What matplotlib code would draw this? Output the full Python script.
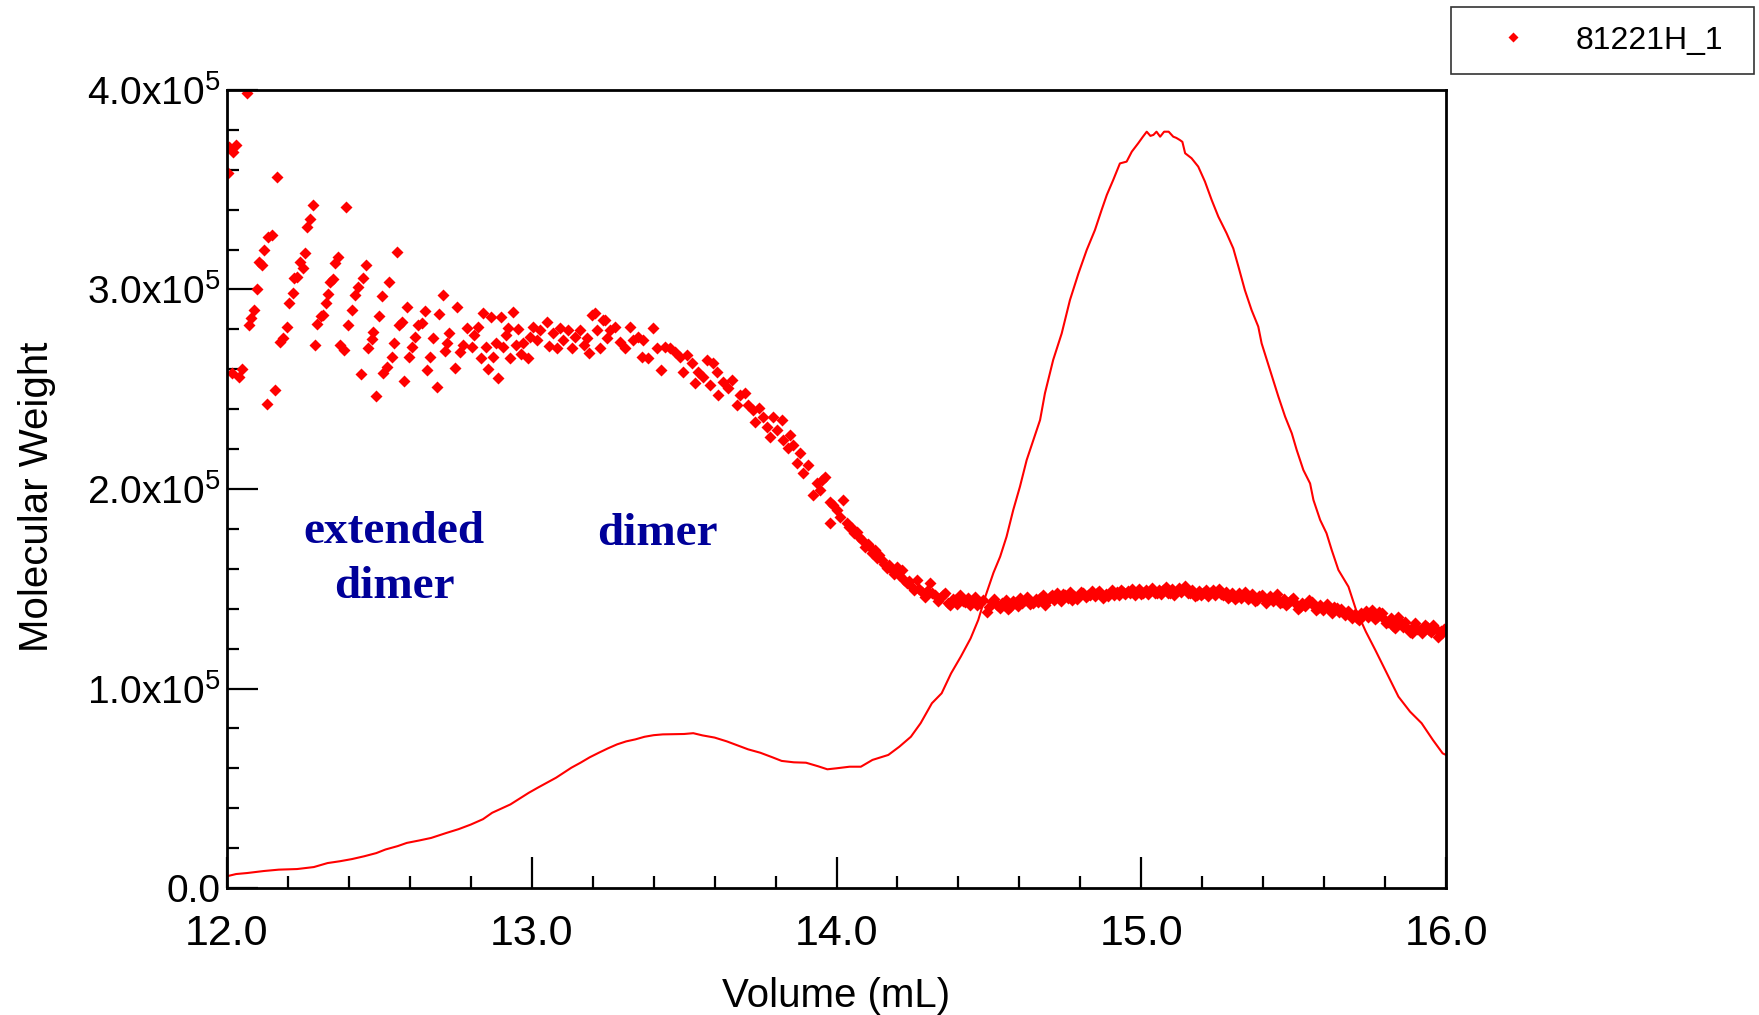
import matplotlib
matplotlib.use('Agg')
import matplotlib.pyplot as plt

plt.rcParams['font.family'] = ['Liberation Sans', 'DejaVu Sans']
plt.rcParams['mathtext.fontset'] = 'custom'
plt.rcParams['mathtext.rm'] = 'Liberation Sans'

# molar mass points (volume mL, MW in 1e5)
mals_early = [
    (12.004, 3.582), (12.008, 3.716), (12.015, 2.580), (12.020, 3.690), (12.030, 3.724),
    (12.040, 2.563), (12.048, 2.600), (12.065, 3.983), (12.073, 2.822), (12.080, 2.855),
    (12.088, 2.897), (12.097, 3.000), (12.106, 3.140), (12.114, 3.123), (12.122, 3.198),
    (12.130, 2.426), (12.136, 3.265), (12.147, 3.273), (12.158, 2.496), (12.165, 3.566),
    (12.174, 2.739), (12.185, 2.755), (12.198, 2.810), (12.205, 2.931), (12.215, 2.981),
    (12.221, 3.056), (12.231, 3.064), (12.240, 3.140), (12.248, 3.110), (12.256, 3.181),
    (12.264, 3.315), (12.272, 3.352), (12.281, 3.424), (12.289, 2.722), (12.296, 2.825),
    (12.307, 2.867), (12.316, 2.872), (12.324, 2.934), (12.333, 2.976), (12.338, 3.039),
    (12.347, 3.051), (12.355, 3.131), (12.365, 3.165), (12.371, 2.722), (12.384, 2.697),
    (12.389, 3.415), (12.398, 2.822), (12.410, 2.897), (12.420, 2.972), (12.431, 3.014),
    (12.439, 2.576), (12.447, 3.056), (12.456, 3.123), (12.464, 2.705), (12.475, 2.750),
    (12.480, 2.789), (12.489, 2.466), (12.499, 2.867), (12.508, 2.967), (12.513, 2.583),
    (12.524, 2.613), (12.532, 3.039), (12.540, 2.663), (12.549, 2.730), (12.557, 3.190),
    (12.565, 2.822), (12.573, 2.839), (12.580, 2.543), (12.590, 2.914), (12.598, 2.663),
    (12.606, 2.714), (12.617, 2.764), (12.628, 2.822), (12.639, 2.831), (12.650, 2.894),
    (12.655, 2.594), (12.666, 2.663), (12.677, 2.755), (12.690, 2.513), (12.697, 2.877),
    (12.708, 2.972), (12.715, 2.693), (12.723, 2.730), (12.730, 2.780), (12.748, 2.605),
    (12.756, 2.914), (12.765, 2.688), (12.776, 2.722), (12.786, 2.805), (12.803, 2.714),
    (12.810, 2.772), (12.825, 2.814), (12.832, 2.655), (12.840, 2.880), (12.850, 2.714),
    (12.857, 2.600), (12.865, 2.864), (12.874, 2.663), (12.883, 2.734), (12.890, 2.558),
    (12.900, 2.864), (12.907, 2.714), (12.915, 2.772), (12.923, 2.805), (12.930, 2.659),
    (12.940, 2.885), (12.948, 2.722), (12.956, 2.800), (12.964, 2.677), (12.972, 2.730),
]

mals_dimer = [
    (12.988, 2.659), (12.994, 2.764), (13.005, 2.814), (13.016, 2.747), (13.027, 2.797),
    (13.049, 2.839), (13.058, 2.718), (13.069, 2.780), (13.084, 2.705), (13.093, 2.805),
    (13.104, 2.747), (13.120, 2.797), (13.131, 2.705), (13.142, 2.764), (13.158, 2.797),
    (13.170, 2.722), (13.181, 2.755), (13.189, 2.680), (13.197, 2.872), (13.208, 2.880),
    (13.215, 2.797), (13.224, 2.705), (13.235, 2.847), (13.240, 2.847), (13.246, 2.755),
    (13.257, 2.797), (13.273, 2.814), (13.290, 2.739), (13.306, 2.705), (13.322, 2.814),
    (13.333, 2.747), (13.350, 2.764), (13.361, 2.663), (13.366, 2.747), (13.383, 2.655),
    (13.397, 2.805), (13.410, 2.705), (13.423, 2.597), (13.437, 2.714), (13.454, 2.705),
    (13.470, 2.688), (13.486, 2.663), (13.497, 2.588), (13.508, 2.672), (13.525, 2.630),
    (13.536, 2.530), (13.547, 2.588), (13.563, 2.563), (13.574, 2.647), (13.585, 2.521),
    (13.596, 2.630), (13.607, 2.588), (13.612, 2.471), (13.629, 2.538), (13.645, 2.505),
    (13.656, 2.546),
]

mals_decline = [
    (13.672, 2.421), (13.683, 2.471), (13.700, 2.480), (13.710, 2.421), (13.727, 2.396),
    (13.733, 2.338), (13.747, 2.404), (13.760, 2.363), (13.771, 2.312), (13.782, 2.262),
    (13.793, 2.363), (13.804, 2.296), (13.820, 2.346), (13.826, 2.245), (13.842, 2.204),
    (13.847, 2.270), (13.858, 2.220), (13.869, 2.129), (13.880, 2.179), (13.891, 2.079),
    (13.907, 2.120), (13.924, 1.970), (13.935, 2.028), (13.946, 1.995), (13.951, 2.045),
    (13.962, 2.062), (13.979, 1.937), (13.979, 1.828), (13.990, 1.920), (14.000, 1.895),
    (14.011, 1.862), (14.022, 1.945), (14.033, 1.828), (14.042, 1.811), (14.050, 1.803),
    (14.058, 1.780), (14.066, 1.786), (14.075, 1.760), (14.083, 1.744), (14.094, 1.711),
    (14.102, 1.725), (14.110, 1.711), (14.118, 1.680), (14.126, 1.694), (14.132, 1.652),
    (14.140, 1.668), (14.148, 1.644), (14.157, 1.625), (14.165, 1.602), (14.173, 1.620),
    (14.181, 1.594), (14.189, 1.575), (14.197, 1.611), (14.205, 1.570), (14.214, 1.594),
    (14.222, 1.545), (14.230, 1.527), (14.238, 1.540), (14.247, 1.510), (14.255, 1.495),
    (14.263, 1.544), (14.271, 1.500), (14.279, 1.485), (14.290, 1.460), (14.298, 1.490),
    (14.307, 1.527), (14.315, 1.480), (14.323, 1.469), (14.332, 1.440), (14.340, 1.452),
    (14.348, 1.470), (14.356, 1.477), (14.365, 1.430), (14.373, 1.418), (14.381, 1.450),
    (14.389, 1.444), (14.397, 1.425), (14.405, 1.469), (14.414, 1.440), (14.422, 1.435),
    (14.430, 1.455), (14.438, 1.418), (14.446, 1.440), (14.454, 1.460), (14.462, 1.420),
    (14.471, 1.427), (14.480, 1.445), (14.493, 1.385), (14.500, 1.410), (14.509, 1.435),
    (14.518, 1.450), (14.526, 1.418), (14.535, 1.405), (14.542, 1.430),
]

mals_plateau = [
    (14.550, 1.420), (14.556, 1.445), (14.563, 1.400), (14.570, 1.410), (14.578, 1.438),
    (14.586, 1.427), (14.594, 1.412), (14.602, 1.452), (14.610, 1.430), (14.618, 1.444),
    (14.626, 1.460), (14.634, 1.425), (14.646, 1.427), (14.654, 1.448), (14.662, 1.432),
    (14.668, 1.452), (14.676, 1.470), (14.684, 1.419), (14.692, 1.440), (14.700, 1.458),
    (14.706, 1.469), (14.714, 1.445), (14.722, 1.478), (14.728, 1.460), (14.736, 1.440),
    (14.744, 1.472), (14.750, 1.469), (14.758, 1.455), (14.766, 1.482), (14.772, 1.444),
    (14.780, 1.465), (14.788, 1.450), (14.794, 1.460), (14.802, 1.485), (14.810, 1.477),
    (14.818, 1.458), (14.826, 1.470), (14.832, 1.469), (14.840, 1.488), (14.848, 1.462),
    (14.854, 1.477), (14.862, 1.490), (14.870, 1.468), (14.876, 1.452), (14.884, 1.475),
    (14.890, 1.462), (14.897, 1.477), (14.905, 1.492), (14.912, 1.470), (14.919, 1.486),
    (14.927, 1.468), (14.934, 1.495), (14.941, 1.486), (14.948, 1.472), (14.956, 1.490),
    (14.963, 1.477), (14.970, 1.498), (14.978, 1.470), (14.985, 1.486), (14.992, 1.500),
    (15.000, 1.475), (15.007, 1.477), (15.014, 1.495), (15.022, 1.472), (15.029, 1.490),
    (15.036, 1.505), (15.044, 1.480), (15.051, 1.477), (15.058, 1.495), (15.065, 1.472),
    (15.072, 1.494), (15.080, 1.508), (15.087, 1.478), (15.094, 1.477), (15.102, 1.497),
    (15.109, 1.470), (15.116, 1.490), (15.124, 1.505), (15.131, 1.482), (15.138, 1.497),
    (15.145, 1.512), (15.152, 1.480), (15.160, 1.477), (15.167, 1.495), (15.175, 1.462),
    (15.182, 1.469), (15.190, 1.488), (15.197, 1.470), (15.204, 1.477), (15.212, 1.495),
    (15.219, 1.465), (15.226, 1.477), (15.234, 1.492), (15.241, 1.470), (15.248, 1.486),
    (15.255, 1.500), (15.262, 1.475), (15.269, 1.469), (15.277, 1.485), (15.284, 1.452),
    (15.291, 1.464), (15.299, 1.480), (15.306, 1.450), (15.313, 1.460), (15.320, 1.478),
    (15.328, 1.455), (15.335, 1.469), (15.342, 1.485), (15.350, 1.448), (15.357, 1.460),
    (15.364, 1.475), (15.372, 1.440), (15.379, 1.444), (15.386, 1.462), (15.395, 1.469),
    (15.402, 1.452), (15.410, 1.430), (15.417, 1.444), (15.424, 1.465), (15.432, 1.440),
    (15.439, 1.460), (15.446, 1.475), (15.454, 1.430), (15.461, 1.435), (15.468, 1.450),
    (15.476, 1.420), (15.483, 1.427), (15.490, 1.445), (15.499, 1.452), (15.506, 1.430),
    (15.514, 1.400), (15.521, 1.410), (15.528, 1.430), (15.536, 1.415), (15.543, 1.427),
    (15.550, 1.442), (15.559, 1.435), (15.566, 1.412), (15.574, 1.395), (15.581, 1.402),
    (15.588, 1.420), (15.596, 1.392), (15.603, 1.410), (15.610, 1.425), (15.619, 1.394),
    (15.626, 1.380), (15.634, 1.410), (15.641, 1.402), (15.648, 1.385), (15.656, 1.400),
    (15.663, 1.385), (15.670, 1.370), (15.678, 1.390), (15.685, 1.369), (15.692, 1.355),
    (15.700, 1.375), (15.707, 1.352), (15.714, 1.345), (15.722, 1.378), (15.729, 1.369),
    (15.736, 1.390), (15.744, 1.360), (15.751, 1.377), (15.758, 1.395), (15.766, 1.350),
    (15.773, 1.360), (15.780, 1.385), (15.789, 1.377), (15.796, 1.350), (15.804, 1.330),
    (15.811, 1.335), (15.818, 1.355), (15.826, 1.315), (15.833, 1.302), (15.840, 1.345),
    (15.844, 1.360), (15.852, 1.330), (15.859, 1.310), (15.866, 1.335), (15.874, 1.300),
    (15.881, 1.285), (15.887, 1.277), (15.894, 1.315), (15.898, 1.327), (15.906, 1.300),
    (15.915, 1.293), (15.922, 1.280), (15.930, 1.320), (15.937, 1.310), (15.944, 1.295),
    (15.951, 1.285), (15.958, 1.318), (15.966, 1.300), (15.975, 1.260), (15.982, 1.290),
    (15.986, 1.277), (15.995, 1.300),
]

# concentration trace, same scale
ri_trace = [
    (12.000, 0.059), (12.030, 0.070), (12.066, 0.075), (12.120, 0.085), (12.170, 0.092),
    (12.230, 0.095), (12.285, 0.105), (12.330, 0.125), (12.370, 0.134), (12.410, 0.145),
    (12.450, 0.159), (12.490, 0.175), (12.520, 0.193), (12.560, 0.210), (12.590, 0.226),
    (12.630, 0.238), (12.670, 0.251), (12.720, 0.276), (12.760, 0.295), (12.800, 0.318),
    (12.840, 0.345), (12.870, 0.377), (12.900, 0.398), (12.930, 0.419), (12.960, 0.448),
    (12.990, 0.477), (13.020, 0.503), (13.050, 0.528), (13.080, 0.553), (13.105, 0.578),
    (13.130, 0.603), (13.160, 0.628), (13.190, 0.655), (13.220, 0.678), (13.250, 0.700),
    (13.280, 0.720), (13.310, 0.735), (13.340, 0.745), (13.370, 0.758), (13.400, 0.766),
    (13.430, 0.770), (13.460, 0.771), (13.500, 0.772), (13.530, 0.776), (13.560, 0.765),
    (13.600, 0.754), (13.640, 0.735), (13.680, 0.712), (13.710, 0.695), (13.750, 0.678),
    (13.790, 0.655), (13.820, 0.637), (13.860, 0.630), (13.900, 0.628), (13.940, 0.610),
    (13.970, 0.595), (14.000, 0.600), (14.043, 0.608), (14.080, 0.608), (14.118, 0.642),
    (14.170, 0.667), (14.206, 0.708), (14.244, 0.758), (14.276, 0.826), (14.313, 0.926),
    (14.345, 0.976), (14.376, 1.076), (14.408, 1.160), (14.440, 1.251), (14.465, 1.343),
    (14.490, 1.468), (14.515, 1.580), (14.537, 1.661), (14.558, 1.761), (14.580, 1.895),
    (14.602, 2.012), (14.624, 2.145), (14.646, 2.246), (14.668, 2.346), (14.684, 2.480),
    (14.711, 2.647), (14.739, 2.780), (14.766, 2.947), (14.794, 3.081), (14.821, 3.198),
    (14.848, 3.298), (14.870, 3.399), (14.887, 3.474), (14.908, 3.549), (14.930, 3.632),
    (14.952, 3.641), (14.969, 3.691), (14.990, 3.733), (15.005, 3.765), (15.018, 3.791),
    (15.030, 3.770), (15.040, 3.775), (15.050, 3.791), (15.062, 3.766), (15.075, 3.791),
    (15.090, 3.791), (15.105, 3.766), (15.115, 3.760), (15.127, 3.749), (15.135, 3.740),
    (15.144, 3.683), (15.165, 3.658), (15.187, 3.616), (15.209, 3.541), (15.231, 3.449),
    (15.253, 3.365), (15.280, 3.282), (15.302, 3.206), (15.319, 3.114), (15.340, 2.997),
    (15.362, 2.897), (15.384, 2.814), (15.395, 2.730), (15.412, 2.647), (15.433, 2.546),
    (15.450, 2.463), (15.472, 2.363), (15.494, 2.279), (15.510, 2.196), (15.532, 2.095),
    (15.554, 2.028), (15.565, 1.945), (15.587, 1.845), (15.608, 1.778), (15.625, 1.694),
    (15.647, 1.594), (15.680, 1.510), (15.705, 1.393), (15.737, 1.285), (15.768, 1.193),
    (15.806, 1.076), (15.844, 0.959), (15.882, 0.884), (15.920, 0.826), (15.957, 0.742),
    (15.989, 0.675), (16.000, 0.667),
]

x_ticks = [12, 13, 14, 15, 16]
x_ticklabels = ['12.0', '13.0', '14.0', '15.0', '16.0']
y_ticks = [0, 1e5, 2e5, 3e5, 4e5]
y_ticklabels = ['0.0', r'$\mathregular{1.0x10^5}$', r'$\mathregular{2.0x10^5}$',
                r'$\mathregular{3.0x10^5}$', r'$\mathregular{4.0x10^5}$']
sample = '81221H_1'
navy = '#000099'

mals = mals_early + mals_dimer + mals_decline + mals_plateau
mv = [p[0] for p in mals]
mm = [p[1] * 1e5 for p in mals]
rv = [p[0] for p in ri_trace]
rm = [p[1] * 1e5 for p in ri_trace]

fig = plt.figure(figsize=(17.59, 10.15), dpi=100)
ax = fig.add_axes([227 / 1759, 127 / 1015, 1219 / 1759, 798 / 1015])

ax.plot(rv, rm, color='red', lw=1.5)
ax.plot(mv, mm, ls='none', marker='D', ms=6.0, color='red', mec='none', label=sample)

ax.set_xlim(12, 16)
ax.set_ylim(0, 4e5)
ax.set_xticks(x_ticks)
ax.set_xticklabels(x_ticklabels, fontsize=31)
ax.set_xticks([12 + 0.2 * i for i in range(21) if i % 5], minor=True)
ax.set_yticks(y_ticks)
ax.set_yticklabels(y_ticklabels, fontsize=28)
ax.set_yticks([0.2e5 * i for i in range(21) if i % 5], minor=True)

ax.tick_params(which='both', direction='in', top=False, right=False, width=1.6, color='black')
ax.tick_params(axis='x', which='major', length=22, pad=19)
ax.tick_params(axis='y', which='major', length=22, pad=5)
ax.tick_params(which='minor', length=8.5)
for s in ax.spines.values():
    s.set_linewidth(2.0)

ax.set_xlabel('Volume (mL)', fontsize=29)
ax.xaxis.set_label_coords(0.5, -0.112)
ax.set_ylabel('Molecular Weight', fontsize=29)
ax.yaxis.set_label_coords(-0.140, 0.49)

ax.text(12.548, 1.729e5, 'extended', ha='center', va='baseline', fontsize=34,
        fontweight='bold', family='Liberation Serif', color=navy)
ax.text(12.548, 1.454e5, 'dimer', ha='center', va='baseline', fontsize=34,
        fontweight='bold', family='Liberation Serif', color=navy)
ax.text(13.414, 1.719e5, 'dimer', ha='center', va='baseline', fontsize=34,
        fontweight='bold', family='Liberation Serif', color=navy)

leg = fig.legend(loc='upper left', bbox_to_anchor=(1451 / 1759, 0.93, 303 / 1759, 1 - 7 / 1015 - 0.93),
                 mode='expand', borderaxespad=0, fontsize=23, numpoints=1, fancybox=False,
                 borderpad=0.58, handlelength=2.72, handletextpad=0.6, markerscale=0.8)
leg.get_frame().set_edgecolor('black')
leg.get_frame().set_linewidth(1.2)

fig.savefig('out.png', dpi=100)
